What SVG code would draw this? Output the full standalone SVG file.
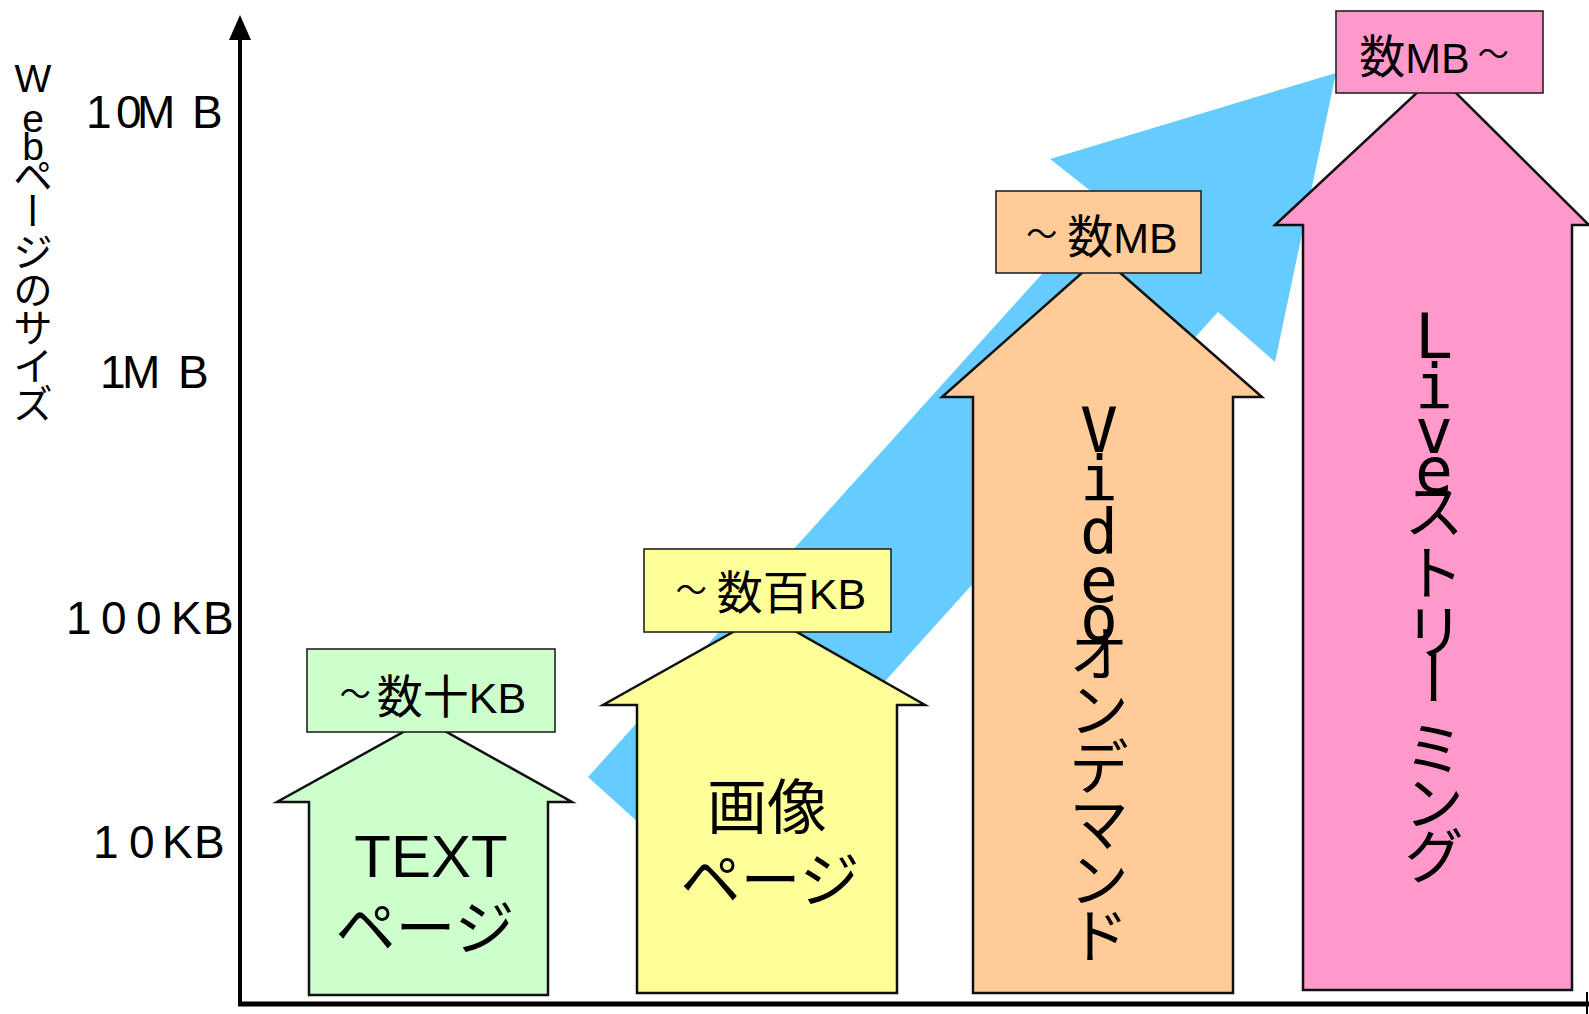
<svg xmlns="http://www.w3.org/2000/svg" width="1589" height="1014" viewBox="0 0 1589 1014">
<style>
.ax{stroke:#000;fill:none}
.arr{stroke:#111;stroke-width:2.5;stroke-linejoin:miter}
.box{stroke:#222;stroke-width:1.6}
.t{font-family:"Liberation Sans","Noto Sans CJK JP",sans-serif;fill:#000}
.jp{font-family:"Noto Sans CJK JP",sans-serif;fill:#000}
.mono{font-family:"DejaVu Sans Mono",monospace}
.lbl{font-size:43px;text-anchor:middle}
.tl{font-size:31px}
.kj{font-family:"Noto Sans CJK JP",sans-serif;font-size:46px}
.ytick{font-size:46px}
</style>
<rect width="1589" height="1014" fill="#fff"/>
<g id="trend">
<polygon points="588,777 1106,203 1050,159 1336,73 1275,362 1218,312 704,882" fill="#66ccff"/>
</g>
<g id="axes">
<line class="ax" x1="240" y1="1006" x2="240" y2="36" stroke-width="4"/>
<polygon points="240,15 229,40 251,40" fill="#000"/>
<line class="ax" x1="238" y1="1004" x2="1589" y2="1004" stroke-width="5"/>
<line class="ax" x1="1587" y1="992" x2="1587" y2="1014" stroke-width="2"/>
<text class="t ytick" x="86 116 137 192" y="128">10MB</text>
<text class="t ytick" x="100 122 178" y="388">1MB</text>
<text class="t ytick" x="66 101 136 171 203" y="634">100KB</text>
<text class="t ytick" x="93 129 162 194" y="858">10KB</text>
<text class="t" font-size="39" text-anchor="middle" x="33 33 33 33 37.7 33 33 33 33 33" y="92 132 160 190 191 266 304 342 380 418" rotate="0 0 0 0 90 0 0 0 0 0">Webページのサイズ</text>
</g>
<g id="text-page">
<path class="arr" d="M309,995 L309,802 L277,802 L425,720 L572,802 L548,802 L548,995 Z" fill="#ccffcc"/>
<rect class="box" x="307" y="649" width="248" height="83" fill="#ccffcc"/>
<text class="t lbl" x="433" y="713"><tspan class="tl" dy="-8">～</tspan><tspan class="kj" dx="6" dy="8">数十</tspan>KB</text>
<text class="t" font-size="60" text-anchor="middle" x="431" y="877">TEXT</text>
<text class="jp" font-size="60" text-anchor="middle" x="425" y="950">ページ</text>
</g>
<g id="image-page">
<path class="arr" d="M637,993 L637,705 L603,705 L765,614 L925,705 L897,705 L897,993 Z" fill="#ffff99"/>
<rect class="box" x="644" y="549" width="247" height="83" fill="#ffff99"/>
<text class="t lbl" x="771" y="609"><tspan class="tl" dy="-8">～</tspan><tspan class="kj" dx="10" dy="8">数百</tspan>KB</text>
<text class="jp" font-size="60" text-anchor="middle" x="767" y="829">画像</text>
<text class="jp" font-size="60" text-anchor="middle" x="770" y="902">ページ</text>
</g>
<g id="video-on-demand">
<path class="arr" d="M973,993 L973,397 L942,397 L1101,256 L1262,397 L1233,397 L1233,993 Z" fill="#ffcc99"/>
<rect class="box" x="996" y="191" width="205" height="82" fill="#ffcc99"/>
<text class="t lbl" x="1102" y="253"><tspan class="tl" dy="-8">～</tspan><tspan class="kj" dx="10" dy="8">数</tspan>MB</text>
<text class="t" text-anchor="middle"><tspan class="mono" font-size="63" x="1099 1099 1099 1099 1099" y="452 500 553 602 640">Video</tspan><tspan class="jp" font-size="59" x="1099 1099 1099 1099 1099 1099" y="676 732 789 846 902 958">オンデマンド</tspan></text>
</g>
<g id="live-streaming">
<path class="arr" d="M1303,990 L1303,225 L1275,225 L1437,74 L1589,225 L1572,225 L1572,990 Z" fill="#ff99cc"/>
<rect class="box" x="1336" y="11" width="207" height="82" fill="#ff99cc"/>
<text class="t lbl" x="1434" y="73"><tspan class="kj">数</tspan>MB<tspan class="tl" dx="8" dy="-8">～</tspan></text>
<text class="t" text-anchor="middle"><tspan class="mono" font-size="63" x="1434 1434 1434 1434" y="358 408 453 492">Live</tspan><tspan class="jp" font-size="59" x="1434 1434 1434 1441 1434 1434 1434" y="533 595 654 648 771 825 878" rotate="0 0 0 90 0 0 0">ストリーミング</tspan></text>
</g>
</svg>
